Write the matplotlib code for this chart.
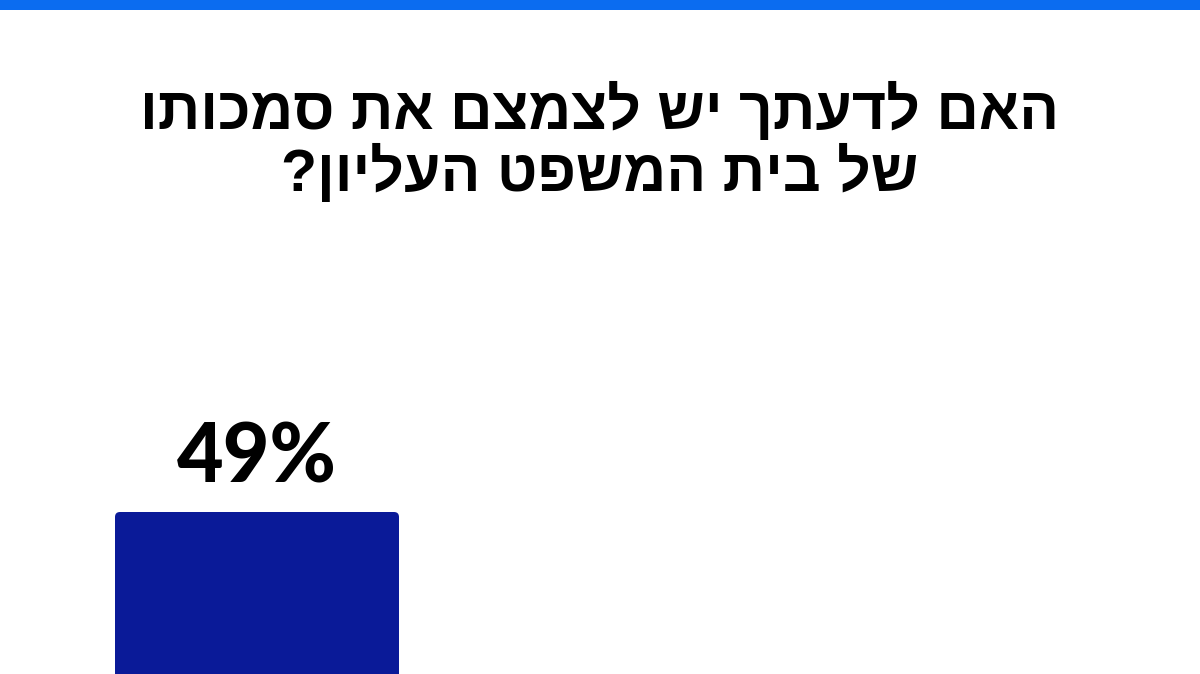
import numpy as np
import matplotlib
matplotlib.use("Agg")
import matplotlib.pyplot as plt
from matplotlib.patches import FancyBboxPatch, Rectangle

title_lines = ["האם לדעתך יש לצמצם את סמכותו", "של בית המשפט העליון?"]
categories = ["כן"]
values = [49]

bar_color = "#0a1a98"
stripe_color = "#0b6cf0"

W, H = 1200, 674
fig = plt.figure(figsize=(W / 100, H / 100), dpi=100)
fig.patch.set_facecolor("white")

# top stripe
fig.patches.append(Rectangle((0, 1 - 10 / H), 1, 10 / H, transform=fig.transFigure,
                             facecolor=stripe_color, edgecolor="none"))

# title (matplotlib has no bidi, so reverse the Hebrew by hand)
for i, line in enumerate(title_lines):
    fig.text(0.5, 1 - (129 + 62 * i) / H, line[::-1], ha="center", va="baseline",
             fontsize=42.5, fontweight="bold", family=["Liberation Sans", "DejaVu Sans"])

# bar axes: top of bar at 512px, bar runs off the bottom edge
bar_top = 1 - 512 / H
ax_bottom = -0.35
ax = fig.add_axes([115 / W, ax_bottom, 284 / W, bar_top - ax_bottom])
ax.set_xlim(-0.5, 0.5)
ax.set_ylim(0, max(values))
ax.axis("off")

bars = ax.bar(range(len(values)), values, width=1.0, color=bar_color)
fig.canvas.draw()
px_x = ax.bbox.width / 1.0
px_y = ax.bbox.height / max(values)
for b, v in zip(bars, values):
    b.set_visible(False)
    r = 5 / px_x
    p = FancyBboxPatch((b.get_x(), b.get_y()), b.get_width(), b.get_height(),
                       boxstyle=f"round,pad=0,rounding_size={r}",
                       mutation_aspect=px_x / px_y,
                       facecolor=bar_color, edgecolor="none", clip_on=False)
    ax.add_patch(p)
    ax.annotate(f"{v}%", (b.get_x() + b.get_width() / 2, v), xytext=(0, 16),
                textcoords="offset pixels", ha="center", va="bottom",
                fontsize=58, fontweight="black", family="Lato", annotation_clip=False)

fig.savefig("out.png", dpi=100, facecolor="white")
